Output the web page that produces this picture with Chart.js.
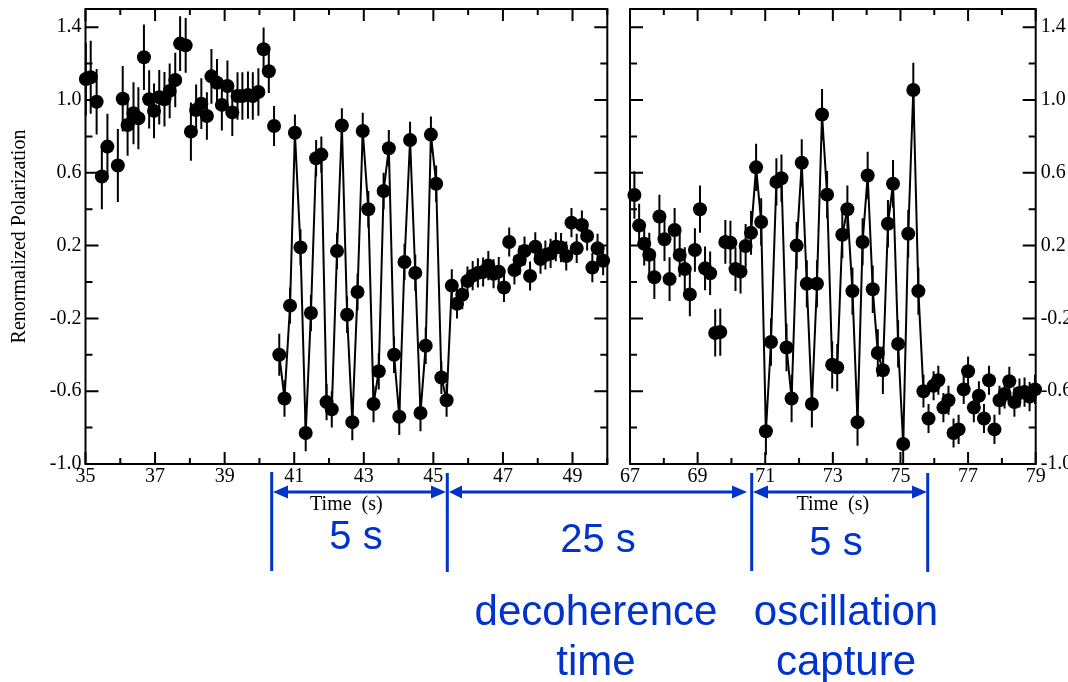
<!DOCTYPE html>
<html>
<head>
<meta charset="utf-8">
<script src="https://cdn.jsdelivr.net/npm/chart.js@4.4.0/dist/chart.umd.min.js"></script>
<style>
    html, body { margin: 0; padding: 0; background: #fff; }
    #stage { position: relative; width: 1068px; height: 682px; overflow: hidden; background: #fff; }
    #leftPanel { position: absolute; left: 0; top: 0; }
    #rightPanel { position: absolute; left: 620px; top: 0; }
    #notes { position: absolute; left: 0; top: 0; }
</style>
</head>
<body>
<div id="stage">
    <canvas id="leftPanel" width="620" height="530"></canvas>
    <canvas id="rightPanel" width="448" height="530"></canvas>
    <svg id="notes" width="1068" height="682" viewBox="0 0 1068 682">
        <g stroke="#0033cc" stroke-width="3">
            <line x1="271.7" y1="472" x2="271.7" y2="571"/>
            <line x1="447.3" y1="473" x2="447.3" y2="572"/>
            <line x1="751.7" y1="473" x2="751.7" y2="571"/>
            <line x1="927.7" y1="473" x2="927.7" y2="572"/>
            <line x1="280" y1="492" x2="440" y2="492"/>
            <line x1="455" y1="492" x2="740" y2="492"/>
            <line x1="760" y1="492" x2="920" y2="492"/>
        </g>
        <g fill="#0033cc">
            <polygon points="273,492 288,485.5 288,498.5"/>
            <polygon points="446,492 431,485.5 431,498.5"/>
            <polygon points="449,492 462,485.5 462,498.5"/>
            <polygon points="747,492 732,485.5 732,498.5"/>
            <polygon points="753,492 768,485.5 768,498.5"/>
            <polygon points="927,492 912,485.5 912,498.5"/>
        </g>
        <g fill="#0033cc" font-family="'Liberation Sans', Arial, sans-serif" text-anchor="middle">
            <text x="356" y="549" font-size="40">5 s</text>
            <text x="598" y="552" font-size="40">25 s</text>
            <text x="836" y="555" font-size="40">5 s</text>
            <text x="596" y="625" font-size="42">decoherence</text>
            <text x="596" y="675" font-size="42">time</text>
            <text x="846" y="625" font-size="42">oscillation</text>
            <text x="846" y="675" font-size="42">capture</text>
        </g>
    </svg>
</div>
<script>
// ---- data ----
const leftPreTime = [35.01, 35.15, 35.32, 35.47, 35.63, 35.93, 36.07, 36.21, 36.38, 36.52, 36.68, 36.83, 36.97, 37.12, 37.27, 37.42, 37.58, 37.72, 37.88, 38.03, 38.18, 38.33, 38.49, 38.62, 38.78, 38.92, 39.08, 39.22, 39.37, 39.51, 39.67, 39.81, 39.97, 40.12, 40.27, 40.42];
const leftPreValue = [1.115, 1.125, 0.99, 0.58, 0.744, 0.64, 1.007, 0.863, 0.927, 0.90, 1.235, 1.004, 0.94, 1.015, 1.004, 1.05, 1.11, 1.31, 1.30, 0.826, 0.945, 0.98, 0.912, 1.13, 1.095, 0.973, 1.077, 0.932, 1.022, 1.022, 1.027, 1.022, 1.044, 1.279, 1.158, 0.857];
const leftPreError = [0.2, 0.2, 0.18, 0.18, 0.18, 0.2, 0.18, 0.17, 0.17, 0.17, 0.18, 0.16, 0.15, 0.15, 0.15, 0.15, 0.15, 0.15, 0.15, 0.16, 0.14, 0.14, 0.13, 0.15, 0.13, 0.14, 0.14, 0.13, 0.13, 0.13, 0.13, 0.13, 0.13, 0.12, 0.12, 0.11];

const leftOscTime = [40.57, 40.72, 40.88, 41.02, 41.18, 41.33, 41.48, 41.63, 41.78, 41.93, 42.08, 42.23, 42.37, 42.52, 42.67, 42.82, 42.97, 43.13, 43.28, 43.43, 43.57, 43.72, 43.87, 44.02, 44.17, 44.33, 44.48, 44.63, 44.78, 44.93, 45.08, 45.23, 45.38, 45.53];
const leftOscValue = [-0.40, -0.64, -0.13, 0.82, 0.19, -0.83, -0.17, 0.68, 0.70, -0.66, -0.70, 0.17, 0.86, -0.18, -0.77, -0.055, 0.83, 0.40, -0.67, -0.49, 0.50, 0.735, -0.40, -0.74, 0.11, 0.78, 0.05, -0.72, -0.35, 0.81, 0.54, -0.525, -0.65, -0.02];
const leftOscError = [0.115, 0.1, 0.1, 0.1, 0.1, 0.1, 0.1, 0.1, 0.1, 0.1, 0.1, 0.1, 0.095, 0.1, 0.1, 0.1, 0.1, 0.1, 0.1, 0.1, 0.1, 0.1, 0.1, 0.1, 0.1, 0.1, 0.1, 0.1, 0.1, 0.1, 0.1, 0.09, 0.09, 0.09];

const leftPostTime = [45.68, 45.83, 45.98, 46.13, 46.28, 46.43, 46.58, 46.73, 46.88, 47.03, 47.18, 47.33, 47.48, 47.62, 47.78, 47.93, 48.08, 48.22, 48.37, 48.52, 48.67, 48.82, 48.97, 49.12, 49.27, 49.42, 49.57, 49.72, 49.88];
const leftPostValue = [-0.12, -0.07, 0.005, 0.035, 0.05, 0.055, 0.09, 0.045, 0.057, -0.03, 0.22, 0.066, 0.12, 0.17, 0.033, 0.194, 0.126, 0.148, 0.157, 0.194, 0.189, 0.143, 0.326, 0.185, 0.313, 0.253, 0.079, 0.185, 0.117];
const leftPostError = [0.08, 0.08, 0.08, 0.08, 0.08, 0.08, 0.08, 0.08, 0.08, 0.08, 0.08, 0.08, 0.08, 0.08, 0.08, 0.08, 0.08, 0.08, 0.08, 0.08, 0.08, 0.08, 0.08, 0.08, 0.08, 0.08, 0.08, 0.08, 0.08];

const rightPreTime = [67.13, 67.27, 67.42, 67.57, 67.72, 67.87, 68.02, 68.17, 68.32, 68.47, 68.62, 68.77, 68.92, 69.07, 69.22, 69.37, 69.52, 69.67, 69.82, 69.97, 70.12, 70.27, 70.42];
const rightPreValue = [0.478, 0.31, 0.21, 0.15, 0.026, 0.36, 0.235, 0.016, 0.286, 0.148, 0.071, -0.068, 0.176, 0.40, 0.075, 0.048, -0.28, -0.275, 0.22, 0.216, 0.071, 0.057, 0.198];
const rightPreError = [0.13, 0.12, 0.12, 0.12, 0.12, 0.12, 0.12, 0.12, 0.12, 0.12, 0.12, 0.12, 0.12, 0.13, 0.12, 0.12, 0.13, 0.13, 0.12, 0.12, 0.12, 0.12, 0.12];

const rightOscTime = [70.58, 70.73, 70.88, 71.02, 71.17, 71.33, 71.48, 71.63, 71.78, 71.93, 72.08, 72.23, 72.38, 72.53, 72.68, 72.83, 72.98, 73.13, 73.28, 73.43, 73.58, 73.73, 73.88, 74.03, 74.18, 74.33, 74.48, 74.63, 74.78, 74.93, 75.08, 75.23, 75.38, 75.53, 75.68];
const rightOscValue = [0.27, 0.63, 0.33, -0.82, -0.33, 0.55, 0.57, -0.36, -0.64, 0.20, 0.655, -0.01, -0.67, -0.01, 0.92, 0.48, -0.455, -0.47, 0.26, 0.40, -0.05, -0.77, 0.22, 0.585, -0.04, -0.39, -0.485, 0.32, 0.54, -0.34, -0.89, 0.265, 1.055, -0.05, -0.60];
const rightOscError = [0.12, 0.13, 0.13, 0.13, 0.13, 0.13, 0.13, 0.13, 0.13, 0.13, 0.13, 0.13, 0.13, 0.13, 0.14, 0.13, 0.13, 0.13, 0.13, 0.13, 0.13, 0.13, 0.13, 0.13, 0.13, 0.13, 0.13, 0.13, 0.13, 0.13, 0.13, 0.13, 0.15, 0.13, 0.09];

const rightPostTime = [75.83, 75.98, 76.12, 76.27, 76.42, 76.57, 76.72, 76.87, 77.0, 77.17, 77.32, 77.47, 77.62, 77.78, 77.93, 78.08, 78.22, 78.37, 78.52, 78.67, 78.82, 78.98];
const rightPostValue = [-0.75, -0.57, -0.54, -0.69, -0.65, -0.83, -0.81, -0.59, -0.49, -0.69, -0.625, -0.75, -0.54, -0.81, -0.65, -0.615, -0.545, -0.66, -0.61, -0.605, -0.63, -0.59];
const rightPostError = [0.08, 0.08, 0.08, 0.08, 0.08, 0.08, 0.08, 0.08, 0.08, 0.08, 0.08, 0.08, 0.08, 0.08, 0.08, 0.08, 0.08, 0.08, 0.08, 0.08, 0.08, 0.08];

// ---- ticks ----
const leftXTicks = [35, 36, 37, 38, 39, 40, 41, 42, 43, 44, 45, 46, 47, 48, 49, 50];
const leftXLabels = ['35', '37', '39', '41', '43', '45', '47', '49'];
const rightXTicks = [67, 68, 69, 70, 71, 72, 73, 74, 75, 76, 77, 78, 79];
const rightXLabels = ['67', '69', '71', '73', '75', '77', '79'];
const yTicks = [-1.0, -0.8, -0.6, -0.4, -0.2, 0, 0.2, 0.4, 0.6, 0.8, 1.0, 1.2, 1.4];
const yLabels = ['-1.0', '-0.6', '-0.2', '0.2', '0.6', '1.0', '1.4'];

const SERIF = "'Liberation Serif', 'Times New Roman', serif";

// vertical error bars, drawn under the markers
const errorBars = {
    id: 'errorBars',
    beforeDatasetsDraw(chart) {
        const { ctx, chartArea: a, scales: { x, y } } = chart;
        ctx.save();
        ctx.beginPath();
        ctx.rect(a.left - 8, a.top, a.right - a.left + 16, a.bottom - a.top);
        ctx.clip();
        ctx.strokeStyle = '#000';
        ctx.lineWidth = 2;
        chart.data.datasets.forEach(ds => {
            ds.data.forEach((p, i) => {
                const px = x.getPixelForValue(p.x);
                ctx.beginPath();
                ctx.moveTo(px, y.getPixelForValue(p.y - ds.errors[i]));
                ctx.lineTo(px, y.getPixelForValue(p.y + ds.errors[i]));
                ctx.stroke();
            });
        });
        ctx.restore();
    }
};

// box frame with inward ticks on all four sides
const frameTicks = {
    id: 'frameTicks',
    afterDraw(chart) {
        const { ctx, chartArea: a, scales: { x, y } } = chart;
        ctx.save();
        ctx.strokeStyle = '#000';
        ctx.lineWidth = 2;
        ctx.strokeRect(a.left, a.top, a.right - a.left, a.bottom - a.top);
        ctx.beginPath();
        x.ticks.forEach(t => {
            const px = x.getPixelForValue(t.value);
            const len = t.label ? 12 : 6;
            ctx.moveTo(px, a.bottom); ctx.lineTo(px, a.bottom - len);
            ctx.moveTo(px, a.top); ctx.lineTo(px, a.top + len);
        });
        y.ticks.forEach(t => {
            const py = y.getPixelForValue(t.value);
            const len = t.label ? 13 : 7;
            ctx.moveTo(a.left, py); ctx.lineTo(a.left + len, py);
            ctx.moveTo(a.right, py); ctx.lineTo(a.right - len, py);
        });
        ctx.stroke();
        ctx.restore();
    }
};

// no automatic room for overhanging labels: the frame is placed by hand
function fixBox(s, size) {
    if (s.isHorizontal()) s.height = size; else s.width = size;
    s.paddingTop = 0;
    s.paddingBottom = 0;
    s.paddingLeft = 0;
    s.paddingRight = 0;
}

function segment(t, v, e, line) {
    return {
        data: t.map((tt, i) => ({ x: tt, y: v[i] })),
        errors: e,
        showLine: line,
        borderColor: '#000',
        borderWidth: 2,
        backgroundColor: '#000',
        pointRadius: 7,
        pointHoverRadius: 7,
        pointBorderWidth: 0,
        clip: false
    };
}

function makePanel(canvasId, opts) {
    return new Chart(document.getElementById(canvasId), {
        type: 'scatter',
        data: { datasets: opts.datasets },
        options: {
            responsive: false,
            animation: false,
            devicePixelRatio: 1,
            layout: { padding: opts.padding },
            plugins: { legend: { display: false }, tooltip: { enabled: false } },
            scales: {
                x: {
                    type: 'linear',
                    min: opts.xTicks[0],
                    max: opts.xTicks[opts.xTicks.length - 1],
                    afterBuildTicks: s => { s.ticks = opts.xTicks.map(v => ({ value: v })); },
                    afterFit: s => fixBox(s, 66),
                    grid: { display: false, drawTicks: false },
                    border: { display: false },
                    ticks: {
                        autoSkip: false, maxRotation: 0, padding: 1, color: '#000',
                        font: { family: SERIF, size: 20 },
                        callback: v => opts.xLabels.includes(String(v)) ? String(v) : ''
                    },
                    title: {
                        display: true, text: 'Time  (s)', color: '#000',
                        font: { family: SERIF, size: 20 },
                        padding: { top: 0, bottom: 13 }
                    }
                },
                y: {
                    type: 'linear',
                    position: opts.yPosition,
                    min: -1.0,
                    max: 1.5,
                    afterBuildTicks: s => { s.ticks = yTicks.map(v => ({ value: v })); },
                    afterFit: s => fixBox(s, opts.yWidth),
                    grid: { display: false, drawTicks: false },
                    border: { display: false },
                    ticks: {
                        autoSkip: false, padding: opts.yPad, color: '#000',
                        font: { family: SERIF, size: 20 },
                        callback: v => yLabels.includes(v.toFixed(1)) ? v.toFixed(1) : ''
                    },
                    title: {
                        display: opts.yTitle !== '', text: opts.yTitle, color: '#000',
                        font: { family: SERIF, size: 20 },
                        padding: { top: 8, bottom: 0 }
                    }
                }
            }
        },
        plugins: [errorBars, frameTicks]
    });
}

makePanel('leftPanel', {
    datasets: [
        segment(leftPreTime, leftPreValue, leftPreError, false),
        segment(leftOscTime, leftOscValue, leftOscError, true),
        segment(leftPostTime, leftPostValue, leftPostError, false)
    ],
    xTicks: leftXTicks,
    xLabels: leftXLabels,
    yPosition: 'left',
    yWidth: 85.5,
    yPad: 4,
    yTitle: 'Renormalized Polarization',
    padding: { left: 0, top: 9, right: 12.7, bottom: 0 }
});

makePanel('rightPanel', {
    datasets: [
        segment(rightPreTime, rightPreValue, rightPreError, false),
        segment(rightOscTime, rightOscValue, rightOscError, true),
        segment(rightPostTime, rightPostValue, rightPostError, false)
    ],
    xTicks: rightXTicks,
    xLabels: rightXLabels,
    yPosition: 'right',
    yWidth: 32.3,
    yPad: 5,
    yTitle: '',
    padding: { left: 10, top: 9, right: 0, bottom: 0 }
});
</script>
</body>
</html>
